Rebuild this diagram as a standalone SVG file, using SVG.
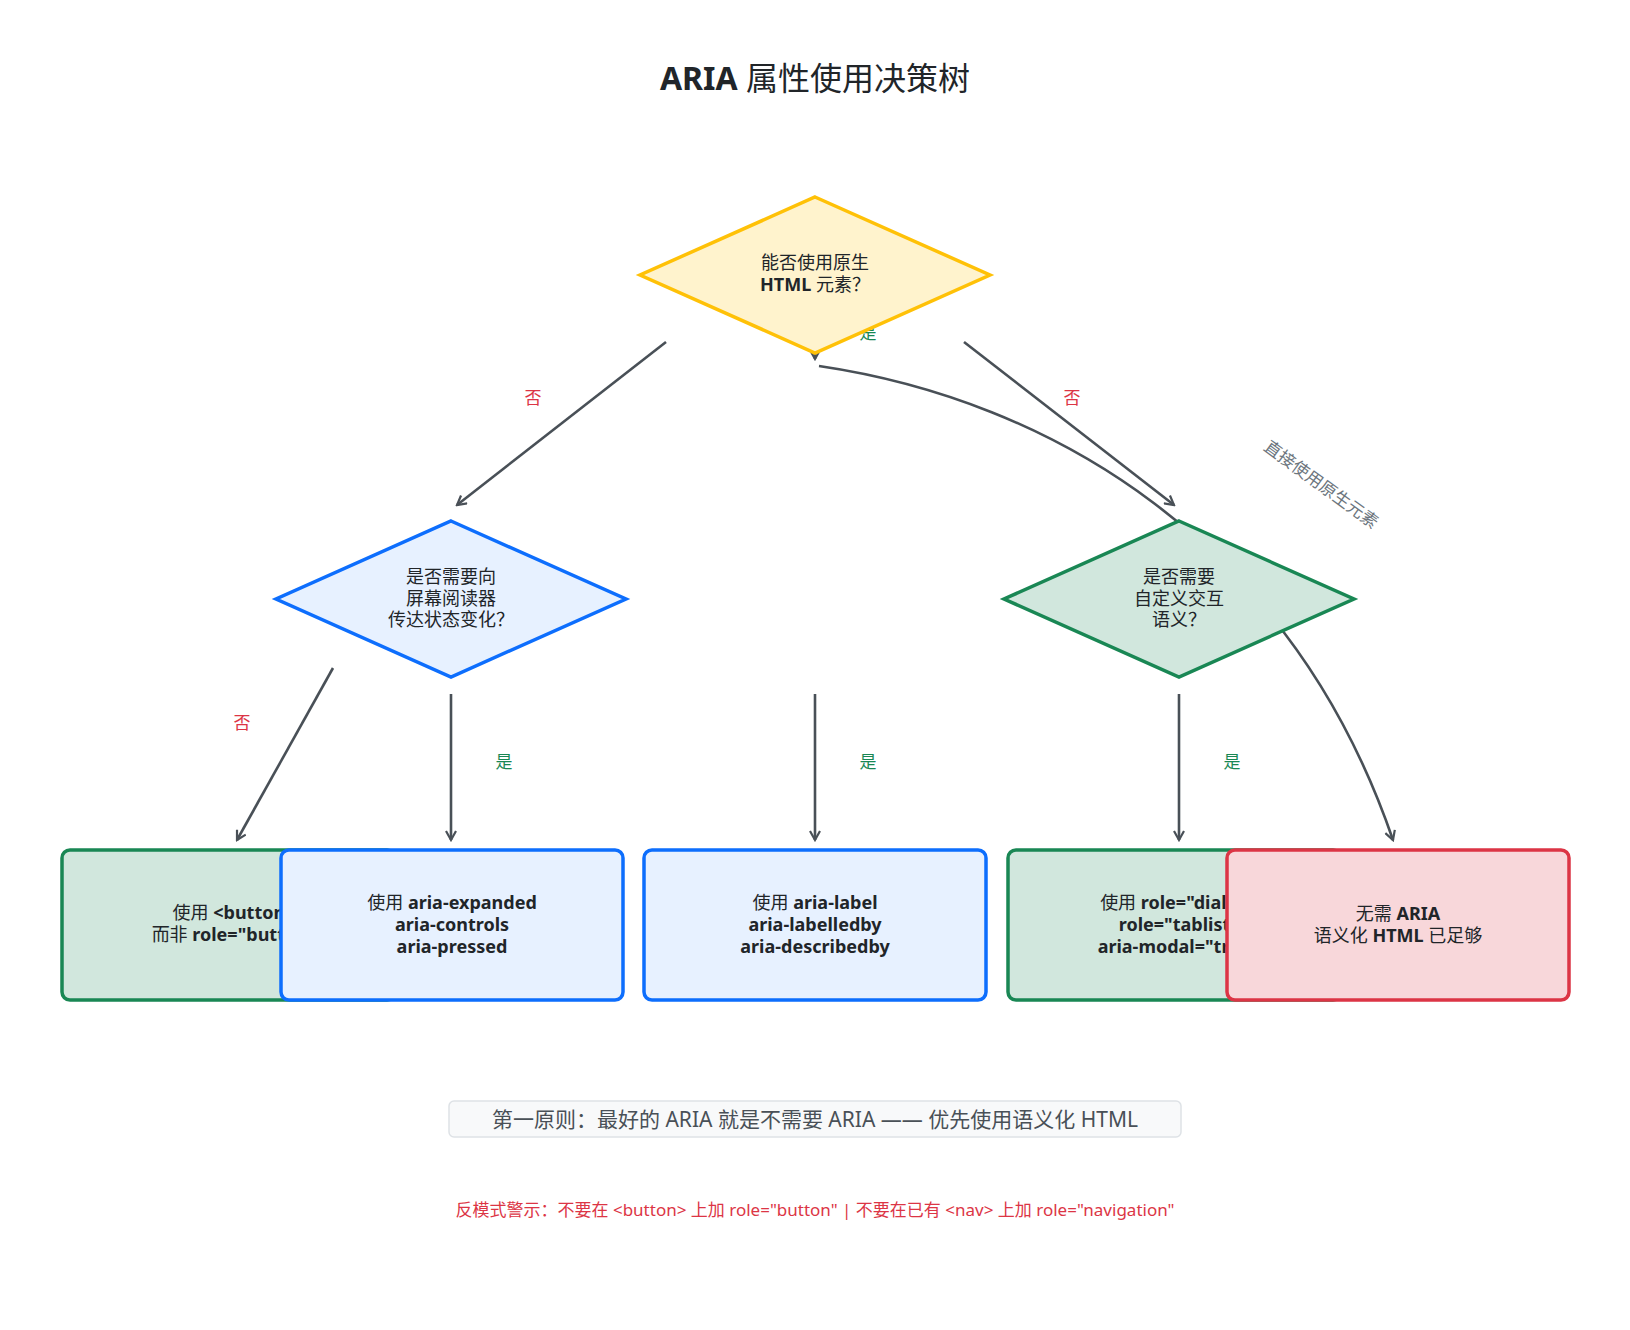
<svg xmlns="http://www.w3.org/2000/svg" width="1630" height="1330" viewBox="0 0 1630 1330">
<style>
text{font-family:"Noto Sans","Noto Sans CJK SC",sans-serif;text-anchor:middle;fill:#212529}
.t{font-size:18px}
.b{font-weight:bold}
.c{fill:none;stroke:#495057;stroke-width:2.6;marker-end:url(#a)}
.yes{fill:#198754;font-size:17px}
.no{fill:#dc3545;font-size:17px}
</style>
<defs><marker id="a" viewBox="0 0 12 12" refX="10" refY="6" markerWidth="12" markerHeight="12" markerUnits="userSpaceOnUse" orient="auto"><path d="M1,1 L10,6 L1,11" fill="none" stroke="#495057" stroke-width="2.2"/></marker></defs>
<rect width="1630" height="1330" fill="#fff"/>
<text x="815" y="90" style="font-size:32px" class="b">ARIA <tspan font-weight="normal">属性使用决策树</tspan></text>
<g id="connectors">
<path class="c" d="M666,342 L457,505"/>
<path class="c" d="M815,305 L815,359"/>
<path class="c" d="M964,342 L1174,505"/>
<path class="c" d="M819,366 C1050,400 1290,540 1393,840"/>
<path class="c" d="M333,668 L237,840"/>
<path class="c" d="M451,694 L451,840"/>
<path class="c" d="M815,694 L815,840"/>
<path class="c" d="M1179,694 L1179,840"/>
<text x="533" y="404" class="no">否</text>
<text x="868" y="339" class="yes">是</text>
<text x="1072" y="404" class="no">否</text>
<text x="242" y="729" class="no">否</text>
<text x="504" y="768" class="yes">是</text>
<text x="868" y="768" class="yes">是</text>
<text x="1232" y="768" class="yes">是</text>
<text x="1320" y="490" transform="rotate(36 1320 486)" style="fill:#6c757d;font-size:17px">直接使用原生元素</text>
</g>
<g id="n1"><path d="M815,197 L990,275 L815,353 L640,275 Z" fill="#fff3cd" stroke="#ffc107" stroke-width="3.5"/>
<text x="815" y="269" class="t">能否使用原生</text><text x="815" y="291" class="t"><tspan class="b">HTML</tspan> 元素？</text></g>
<g id="n2"><path d="M451,521 L626,599 L451,677 L276,599 Z" fill="#e7f1ff" stroke="#0d6efd" stroke-width="3.5"/>
<text x="451" y="583" class="t">是否需要向</text><text x="451" y="605" class="t">屏幕阅读器</text><text x="451" y="626" class="t">传达状态变化？</text></g>
<g id="n3"><path d="M1179,521 L1354,599 L1179,677 L1004,599 Z" fill="#d1e7dd" stroke="#198754" stroke-width="3.5"/>
<text x="1179" y="583" class="t">是否需要</text><text x="1179" y="605" class="t">自定义交互</text><text x="1179" y="626" class="t">语义？</text></g>
<g id="b1"><rect x="62" y="850" width="333" height="150" rx="8" fill="#d1e7dd" stroke="#198754" stroke-width="3.5"/>
<text x="234" y="919" class="t">使用 <tspan class="b">&lt;button&gt;</tspan></text><text x="234" y="941" class="t">而非 <tspan class="b">role="button"</tspan></text></g>
<g id="b2"><rect x="281" y="850" width="342" height="150" rx="8" fill="#e7f1ff" stroke="#0d6efd" stroke-width="3.5"/>
<text x="452" y="909" class="t">使用 <tspan class="b">aria-expanded</tspan></text><text x="452" y="931" class="t b">aria-controls</text><text x="452" y="953" class="t b">aria-pressed</text></g>
<g id="b3"><rect x="644" y="850" width="342" height="150" rx="8" fill="#e7f1ff" stroke="#0d6efd" stroke-width="3.5"/>
<text x="815" y="909" class="t">使用 <tspan class="b">aria-label</tspan></text><text x="815" y="931" class="t b">aria-labelledby</text><text x="815" y="953" class="t b">aria-describedby</text></g>
<g id="b4"><rect x="1008" y="850" width="333" height="150" rx="8" fill="#d1e7dd" stroke="#198754" stroke-width="3.5"/>
<text x="1179" y="909" class="t">使用 <tspan class="b">role="dialog"</tspan></text><text x="1179" y="931" class="t b">role="tablist"</text><text x="1179" y="953" class="t b">aria-modal="true"</text></g>
<g id="b5"><rect x="1227" y="850" width="342" height="150" rx="8" fill="#f8d7da" stroke="#dc3545" stroke-width="3.5"/>
<text x="1398" y="920" class="t">无需 <tspan class="b">ARIA</tspan></text><text x="1398" y="942" class="t">语义化 <tspan class="b">HTML</tspan> 已足够</text></g>
<g id="footer"><rect x="449" y="1101" width="732" height="36" rx="5" fill="#f8f9fa" stroke="#dee2e6" stroke-width="1.5"/>
<text x="815" y="1127" style="font-size:21px;fill:#495057">第一原则：最好的 ARIA 就是不需要 ARIA —— 优先使用语义化 HTML</text>
<text x="815" y="1216" style="font-size:17px;fill:#dc3545">反模式警示：不要在 &lt;button&gt; 上加 role="button" | 不要在已有 &lt;nav&gt; 上加 role="navigation"</text></g>
</svg>
